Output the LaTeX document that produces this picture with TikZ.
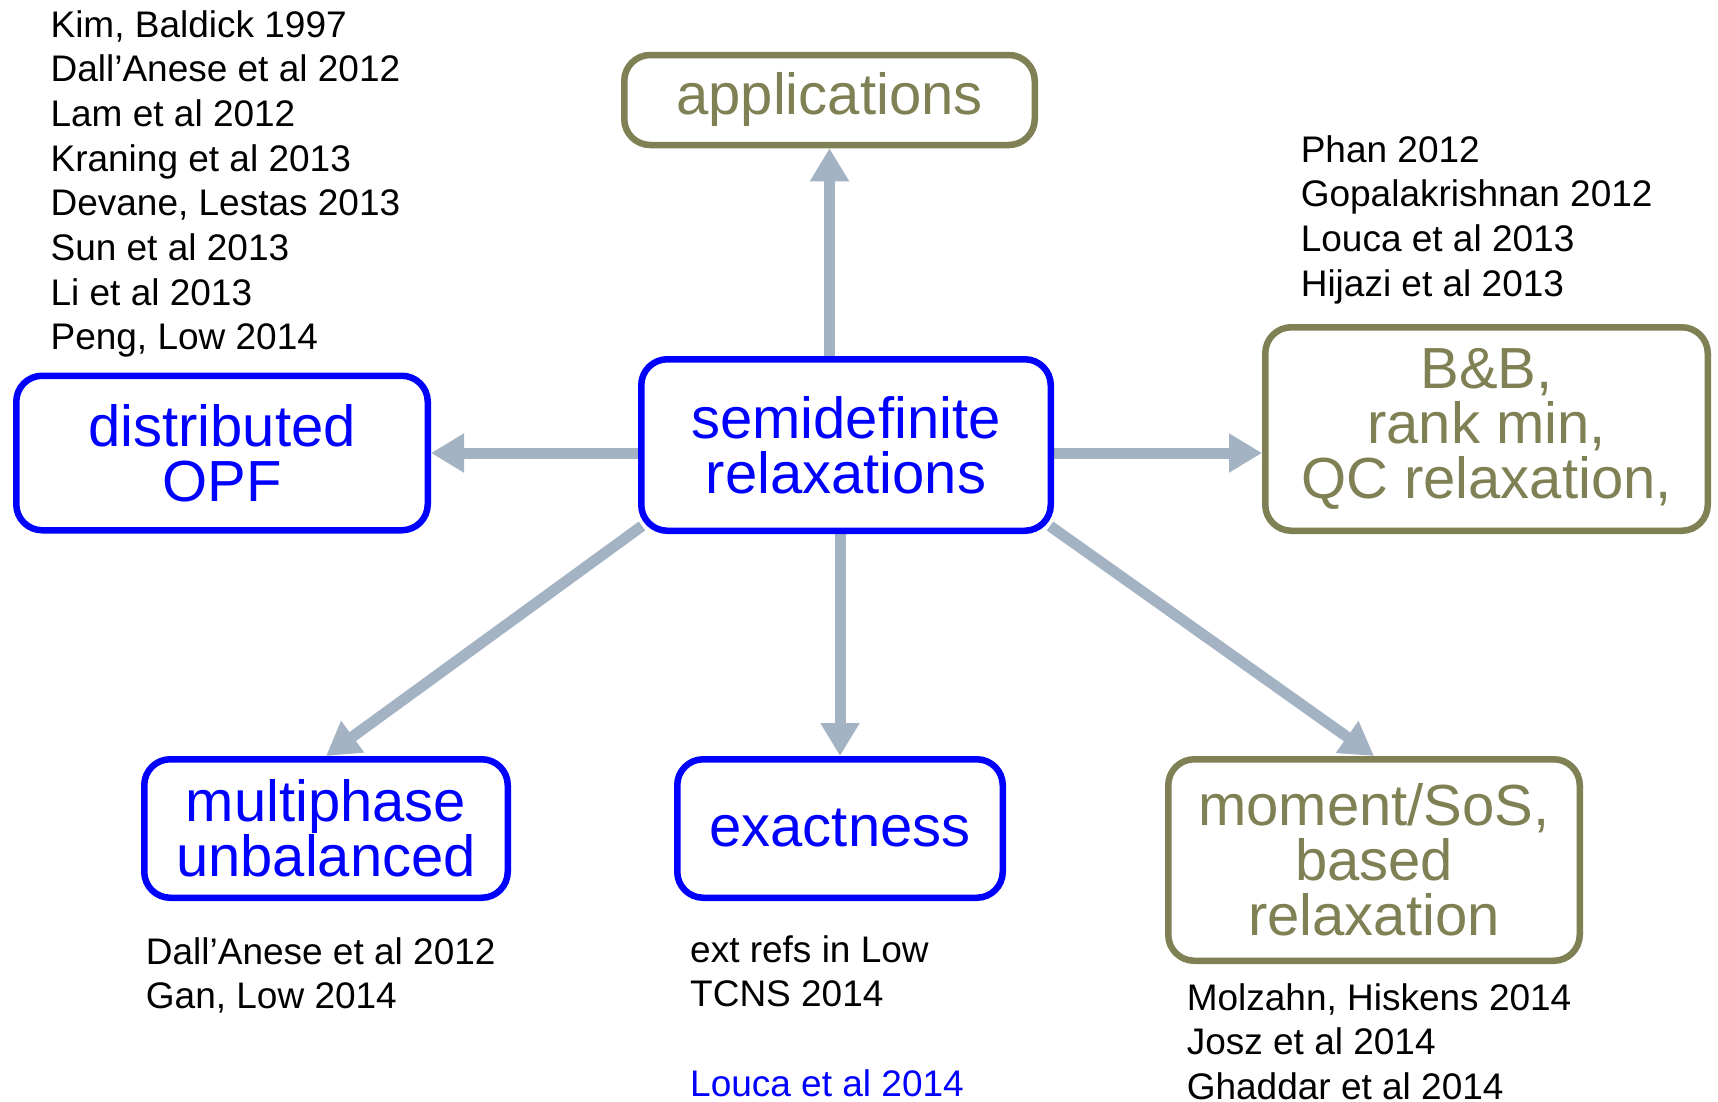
\documentclass[tikz,border=0pt]{standalone}
\usepackage{fontspec}
\setmainfont{Liberation Sans}
\usepackage{tikz}
\usetikzlibrary{positioning,arrows.meta,backgrounds}
\usepackage{xcolor}
\definecolor{sdpblue}{RGB}{0,0,255}
\definecolor{olivebox}{RGB}{128,128,85}
\definecolor{linkgray}{RGB}{163,179,195}

\begin{document}
\begin{tikzpicture}[
    x=1pt, y=1pt, node distance=300pt, on grid,
    topic/.style={draw=sdpblue, text=sdpblue, fill=white, line width=6.5pt,
      rounded corners=26pt, align=center, inner sep=0pt,
      font=\fontsize{58}{55}\selectfont},
    othertopic/.style={topic, draw=olivebox, text=olivebox},
    refs/.style={anchor=base west, align=left, inner sep=0pt,
      font=\fontsize{37}{44.7}\selectfont},
    link/.style={draw=linkgray, line width=11pt,
      -{Triangle[length=33pt, width=37pt]}}]
  \useasboundingbox (0,0) rectangle (1718,-1101);
  % topics
  \node[topic, minimum width=409.5pt, minimum height=171.5pt] (sdp) at (846,-445) {semidefinite\\relaxations};
  \node[othertopic, above=345pt of sdp, xshift=-16.5pt, minimum width=410.5pt, minimum height=90pt] (apps) {applications};
  \node[topic, left=624pt of sdp, yshift=-8pt, minimum width=411.5pt, minimum height=154.5pt] (dopf) {distributed\\OPF};
  \node[othertopic, right=640.5pt of sdp, yshift=16pt, minimum width=442.5pt, minimum height=203.5pt] (bb) {B\&B,\\rank min,\\QC relaxation,};
  \node[topic, below left=383.5pt and 520pt of sdp, minimum width=363.5pt, minimum height=138.5pt] (multi) {multiphase\\unbalanced};
  \node[topic, below=383.5pt of sdp, xshift=-6pt, minimum width=325.5pt, minimum height=138.5pt] (exact) {exactness};
  \node[othertopic, below right=415pt and 528pt of sdp, minimum width=411.5pt, minimum height=201.5pt] (moment) {moment/SoS,\\based\\relaxation};
  % references (base = baseline of the last line)
  \node[refs] (dopfrefs) at (50.4,-349.9) {Kim, Baldick 1997\\Dall’Anese et al 2012\\Lam et al 2012\\Kraning et al 2013\\Devane, Lestas 2013\\Sun et al 2013\\Li et al 2013\\Peng, Low 2014};
  \node[refs] (bbrefs) at (1300.6,-296.1) {Phan 2012\\Gopalakrishnan 2012\\Louca et al 2013\\Hijazi et al 2013};
  \node[refs] (multirefs) at (145.7,-1008.7) {Dall’Anese et al 2012\\Gan, Low 2014};
  \node[refs] (exactrefs) at (690,-1096.1) {ext refs in Low\\TCNS 2014\\[44.7pt]\textcolor{sdpblue}{Louca et al 2014}};
  \node[refs] (momentrefs) at (1186.6,-1099.4) {Molzahn, Hiskens 2014\\Josz et al 2014\\Ghaddar et al 2014};
  % links
  \begin{scope}[on background layer]
    \draw[link] (apps.south |- sdp.north) -- (apps.south);
    \draw[link] (sdp.west |- dopf.east) -- (dopf.east);
    \draw[link] (sdp.east |- dopf.east) -- (bb.west |- dopf.east);
    \draw[link] (sdp.south -| exact.north) -- (exact.north);
    \draw[link] ([shift={(4pt,8pt)}]sdp.south west) -- (multi.north);
    \draw[link] ([shift={(-4pt,8pt)}]sdp.south east) -- (moment.north);
  \end{scope}
\end{tikzpicture}
\end{document}
